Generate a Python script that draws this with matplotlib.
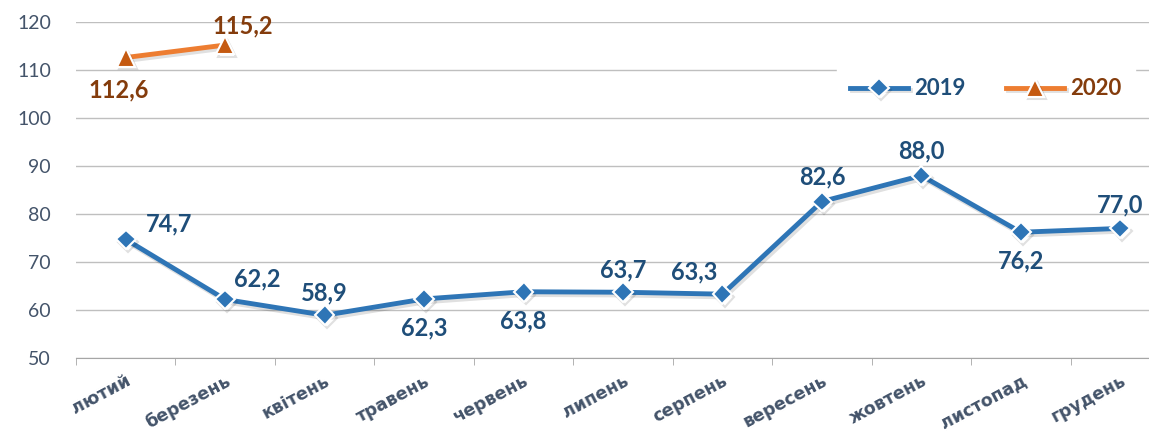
import matplotlib.pyplot as plt
import matplotlib.patheffects as pe

plt.rcParams['font.family'] = ['Lato', 'DejaVu Sans']

months = ['лютий', 'березень', 'квітень', 'травень', 'червень', 'липень',
          'серпень', 'вересень', 'жовтень', 'листопад', 'грудень']
v2019 = [74.7, 62.2, 58.9, 62.3, 63.8, 63.7, 63.3, 82.6, 88.0, 76.2, 77.0]
v2020 = [112.6, 115.2]

# label offsets in points (dx, dy)
off2019 = [(31, 11), (23, 15), (0, 16), (0, -21), (0, -21), (0, 16),
           (-20, 16), (0, 18), (0, 18), (0, -21), (0, 17)]
off2020 = [(-5, -23), (13, 14)]

blue = '#2E75B6'
blue_txt = '#1F4E79'
orange = '#ED7D31'
brown = '#843C0C'
grey_txt = '#44546A'

fig = plt.figure(figsize=(11.49, 4.43), dpi=100)
ax = fig.add_axes([76 / 1149, 1 - 358 / 443, 1094 / 1149, 336 / 443])

x = list(range(len(months)))
shadow = [pe.SimpleLineShadow(offset=(1.5, -2), alpha=0.12), pe.Normal()]
ax.plot(x, v2019, color=blue, lw=3.5, marker='D', ms=10, mfc=blue, mec='white',
        mew=1.5, label='2019', zorder=3, path_effects=shadow)
ax.plot(x[:len(v2020)], v2020, color=orange, lw=3.5, marker='^', ms=13, mfc='#C55A11',
        mec='white', mew=1.5, label='2020', zorder=3, path_effects=shadow)

for xi, v, (dx, dy) in zip(x, v2019, off2019):
    ax.annotate(f'{v:.1f}'.replace('.', ','), (xi, v), xytext=(dx, dy),
                textcoords='offset points', ha='center', va='center',
                fontsize=17, fontweight='bold', color=blue_txt)
for xi, v, (dx, dy) in zip(x, v2020, off2020):
    ax.annotate(f'{v:.1f}'.replace('.', ','), (xi, v), xytext=(dx, dy),
                textcoords='offset points', ha='center', va='center',
                fontsize=17, fontweight='bold', color=brown)

ax.set_xlim(-0.5, len(months) - 0.5)
ax.set_ylim(50, 120)
ax.set_yticks(range(50, 121, 10))
ax.grid(axis='y', color='#BFBFBF', lw=1)
ax.set_axisbelow(True)
for s in ['top', 'right', 'left']:
    ax.spines[s].set_visible(False)
ax.spines['bottom'].set_color('#A6A6A6')
ax.tick_params(axis='y', length=0, labelsize=14, colors=grey_txt, pad=18)
ax.set_xticks(x)
ax.set_xticklabels(months, rotation=28, ha='right', rotation_mode='anchor',
                   fontsize=12.5, fontweight='bold', color=grey_txt,
                   family='DejaVu Sans')
ax.set_xticks([i - 0.5 for i in range(len(months) + 1)], minor=True)
ax.tick_params(axis='x', which='major', length=0, pad=10)
ax.tick_params(axis='x', which='minor', length=5, color='#A6A6A6')

leg = ax.legend(loc='upper right', bbox_to_anchor=(1070 / 1094, 0.905), ncol=2,
                frameon=True, framealpha=1, edgecolor='white', fontsize=16,
                handlelength=2.6, handletextpad=0.3, columnspacing=1.8,
                borderpad=0.6)
for t, c in zip(leg.get_texts(), [blue_txt, brown]):
    t.set_color(c)
    t.set_fontweight('bold')

fig.savefig('out.png', dpi=100)
